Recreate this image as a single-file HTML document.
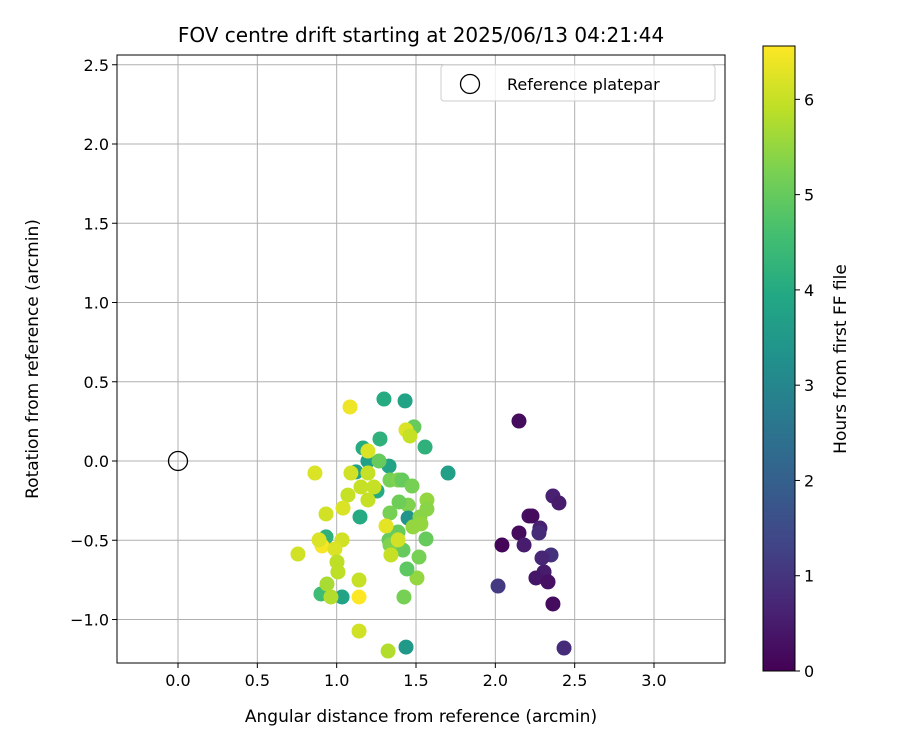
<!DOCTYPE html>
<html><head><meta charset="utf-8"><style>
body{margin:0;background:#fff;font-family:"Liberation Sans","DejaVu Sans",sans-serif}
svg text{font-family:"DejaVu Sans","Liberation Sans",sans-serif;fill:#000}
</style></head><body>
<svg id="chart" width="900" height="750" xmlns="http://www.w3.org/2000/svg">
<defs><linearGradient id="vir" x1="0" y1="1" x2="0" y2="0">
<stop offset="0" stop-color="#440154"/><stop offset="0.1" stop-color="#482475"/><stop offset="0.2" stop-color="#414487"/><stop offset="0.3" stop-color="#355f8d"/><stop offset="0.4" stop-color="#2a788e"/><stop offset="0.5" stop-color="#21918c"/><stop offset="0.6" stop-color="#22a884"/><stop offset="0.7" stop-color="#44bf70"/><stop offset="0.8" stop-color="#7ad151"/><stop offset="0.9" stop-color="#bddf26"/><stop offset="1" stop-color="#fde725"/></linearGradient></defs>
<text x="421" y="42" font-size="20" text-anchor="middle">FOV centre drift starting at 2025/06/13 04:21:44</text>
<g id="grid"></g><g id="pts"></g><g id="axes"></g>
</svg>
<script>
const px=[519,553,559,502,519,524,529,532,540,539,551,544,536,548,542,498,553,564,
384,405,414,425,363,380,368,389,379,448,356,360,377,390,398,402,408,399,412,427,427,408,390,420,421,413,398,389,403,426,419,417,407,404,390,326,321,342,406,
350,406,410,368,315,351,368,361,374,348,343,368,326,386,342,398,322,335,319,391,298,337,338,327,331,359,359,359,388];
const py=[421,496,503,545,533,545,516,516,528,533,555,572,578,582,558,586,604,648,
399,401,427,447,448,439,461,466,461,473,472,517,491,480,480,480,505,502,486,500,509,518,513,517,524,527,532,540,550,539,557,578,569,597,545,537,594,597,647,
407,430,436,451,473,473,473,487,487,495,508,500,514,526,540,540,546,549,540,555,554,562,572,584,597,580,597,631,651];
// convert read pixel positions to data values (arcmin)
const xVals=px.map(p=>+((p-178)/158.67).toFixed(3));
const yVals=py.map(p=>+((461-p)/158.5).toFixed(3));
const hours=[0.2,0.6,0.5,0.1,0.2,0.5,0.3,0.2,0.6,0.8,0.9,0.5,0.4,0.3,0.7,1.1,0.2,0.8,
4.0,3.8,5.0,4.2,4.0,4.2,3.7,3.8,5.0,3.7,3.8,4.0,4.0,5.2,5.3,5.0,5.3,5.1,5.2,5.5,5.4,3.4,5.2,5.4,5.5,5.5,5.0,5.0,5.0,5.0,5.2,5.5,4.9,5.2,5.3,4.2,4.5,3.8,3.5,
6.4,6.2,6.0,6.2,6.2,6.1,6.0,6.0,6.0,6.0,6.2,6.0,6.1,6.3,6.1,6.1,6.5,6.2,6.2,6.0,6.1,5.9,5.9,5.7,5.8,6.0,6.6,6.1,5.8];
const xTicks=["0.0","0.5","1.0","1.5","2.0","2.5","3.0"];
const yTicks=["−1.0","−0.5","0.0","0.5","1.0","1.5","2.0","2.5"];
const yTickVals=[-1,-0.5,0,0.5,1,1.5,2,2.5];
const cTicks=[0,1,2,3,4,5,6];
const NS="http://www.w3.org/2000/svg";
const L=117,R=725,T=55,B=663;
const X=v=>178+v*158.67, Y=v=>461-v*158.5;
const HMAX=6.56, CB={x:763,y:46,w:32,h:625};
const stops=["#440154","#482475","#414487","#355f8d","#2a788e","#21918c","#22a884","#44bf70","#7ad151","#bddf26","#fde725"];
function hex(c){return [1,3,5].map(i=>parseInt(c.substr(i,2),16));}
function vir(t){t=Math.max(0,Math.min(1,t))*10;const i=Math.min(9,Math.floor(t)),f=t-i;const a=hex(stops[i]),b=hex(stops[i+1]);return "rgb("+a.map((v,k)=>Math.round(v+(b[k]-v)*f)).join(",")+")";}
function el(tag,attrs,parent,txt){const e=document.createElementNS(NS,tag);for(const k in attrs)e.setAttribute(k,attrs[k]);if(txt!==undefined)e.textContent=txt;parent.appendChild(e);return e;}
const g=document.getElementById('grid'),pg=document.getElementById('pts'),ax=document.getElementById('axes');
xTicks.forEach((t,i)=>{const x=X(i*0.5);
 const l=el('line',{x1:x,x2:x,y1:T,y2:B,stroke:'#b0b0b0','stroke-width':1},g);
 
 el('line',{x1:x,x2:x,y1:B,y2:B+5,stroke:'#000'},ax);
 const tx=el('text',{x:x,y:B+23,'font-size':16,'text-anchor':'middle'},ax,t);
 });
yTickVals.forEach((v,i)=>{const y=Y(v);
 const l=el('line',{x1:L,x2:R,y1:y,y2:y,stroke:'#b0b0b0','stroke-width':1},g);
 
 el('line',{x1:L-5,x2:L,y1:y,y2:y,stroke:'#000'},ax);
 const tx=el('text',{x:L-8,y:y+6,'font-size':16,'text-anchor':'end'},ax,yTicks[i]);
 });
xVals.forEach((xv,i)=>{const c=el('circle',{cx:X(xv),cy:Y(yVals[i]),r:7.5,fill:vir(hours[i]/HMAX)},pg);
 });
const ref=el('circle',{cx:X(0),cy:Y(0),r:9.5,fill:'none',stroke:'#000','stroke-width':1.3},pg);

const fr=el('rect',{x:L,y:T,width:R-L,height:B-T,fill:'none',stroke:'#000','stroke-width':1},ax);

const xt=el('text',{x:421,y:722,'font-size':17,'text-anchor':'middle'},ax,'Angular distance from reference (arcmin)');

const yt=el('text',{x:0,y:0,'font-size':17,'text-anchor':'middle',transform:'translate(38,359) rotate(-90)'},ax,'Rotation from reference (arcmin)');

// legend
const lg=el('g',{},ax);
el('rect',{x:441,y:65,width:274,height:36,rx:3,fill:'#fff','fill-opacity':0.8,stroke:'#ccc'},lg);
el('circle',{cx:470,cy:84,r:9.5,fill:'none',stroke:'#000','stroke-width':1.3},lg);
const lt=el('text',{x:507,y:90,'font-size':16},lg,'Reference platepar');

// colorbar
const cb=el('rect',{x:CB.x,y:CB.y,width:CB.w,height:CB.h,fill:'url(#vir)',stroke:'#000','stroke-width':1},ax);

cTicks.forEach(v=>{const y=CB.y+CB.h-v/HMAX*CB.h;
 el('line',{x1:CB.x+CB.w,x2:CB.x+CB.w+5,y1:y,y2:y,stroke:'#000'},ax);
 const t=el('text',{x:CB.x+CB.w+9,y:y+6,'font-size':16},ax,String(v));
 });
const ct=el('text',{x:0,y:0,'font-size':17,'text-anchor':'middle',transform:'translate(846,359) rotate(-90)'},ax,'Hours from first FF file');

</script>
</body></html>
